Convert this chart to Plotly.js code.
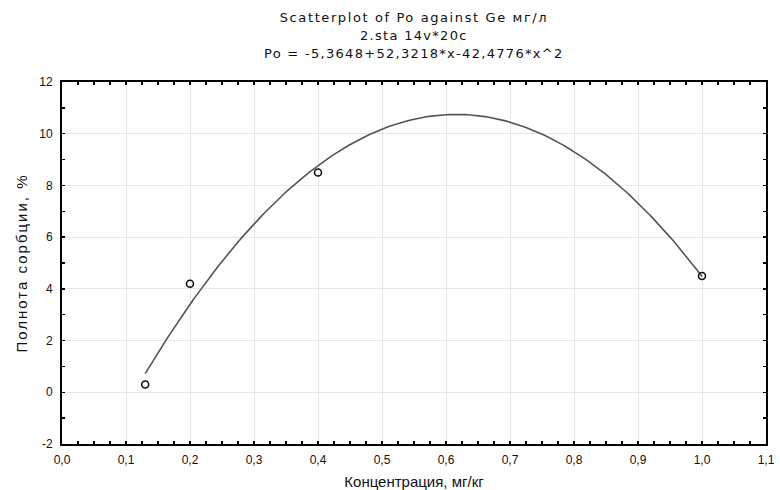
<!DOCTYPE html>
<html>
<head>
<meta charset="utf-8">
<script src="https://cdn.plot.ly/plotly-3.0.1.min.js"></script>
<style>
html,body{margin:0;padding:0;background:#fff;}
#chart{width:780px;height:490px;}
.gtitle { letter-spacing: 1.6px; }
.annotation-text { letter-spacing: 1.3px; }
.ytitle { letter-spacing: 2px; }
</style>
</head>
<body>
<div id="chart"></div>
<script>
// Observed points
const concentration = [0.13, 0.2, 0.4, 1.0];
const sorption = [0.3, 4.2, 8.5, 4.5];
// Fitted quadratic from the chart's caption: Po = a + b*x + c*x^2
const fitCoefficients = [-5.3648, 52.3218, -42.4776];
const titleLines = ["Scatterplot of Po against Ge мг/л", "2.sta 14v*20c", "Po = -5,3648+52,3218*x-42,4776*x^2"];
const xTitle = "Концентрация, мг/кг";
const yTitle = "Полнота сорбции, %";
const yTickValues = [-2, 0, 2, 4, 6, 8, 10, 12];
const yTickLabels = ["-2", "0", "2", "4", "6", "8", "10", "12"];

const xmin = Math.min(...concentration), xmax = Math.max(...concentration);
const fitX = [], fitY = [];
for (let i = 0; i <= 200; i++) {
  const x = xmin + (xmax - xmin) * i / 200;
  fitX.push(x);
  fitY.push(fitCoefficients[0] + fitCoefficients[1] * x + fitCoefficients[2] * x * x);
}

const font = "Liberation Sans, Arial, sans-serif";
const titleFont = "DejaVu Sans, Verdana, sans-serif";
const data = [
  {x: fitX, y: fitY, mode: 'lines', line: {color: '#555555', width: 1.6}, hoverinfo: 'skip'},
  {x: concentration, y: sorption, mode: 'markers',
   marker: {symbol: 'circle-open', size: 7, color: '#111111', line: {width: 1.6, color: '#111111'}}}
];

const axisCommon = {
  showline: true, linecolor: '#000', linewidth: 2, mirror: 'allticks',
  ticks: 'inside', ticklen: 3, tickcolor: '#000', tickwidth: 1.5,
  showgrid: true, gridcolor: '#e6e6e6', gridwidth: 1, zeroline: false,
  tickfont: {family: font, size: 12, color: '#111'}
};

const layout = {
  width: 780, height: 490,
  margin: {l: 62, r: 14, t: 82, b: 46},
  paper_bgcolor: '#fff', plot_bgcolor: '#fff',
  separators: ',.',
  showlegend: false,
  font: {family: font, color: '#111'},
  title: {text: titleLines[0], font: {family: titleFont, size: 13, color: '#111'},
          x: 0.5, xanchor: 'center', xref: 'paper', y: 1 - 17/490, yanchor: 'middle', yref: 'container'},
  annotations: [
    {text: titleLines[1], xref: 'paper', yref: 'paper', x: 0.5, y: 1 + (82-35)/362, xanchor: 'center', yanchor: 'middle', showarrow: false, font: {family: titleFont, size: 13, color: '#111'}},
    {text: titleLines[2], xref: 'paper', yref: 'paper', x: 0.5, y: 1 + (82-53)/362, xanchor: 'center', yanchor: 'middle', showarrow: false, font: {family: titleFont, size: 13, color: '#111'}}
  ],
  xaxis: Object.assign({}, axisCommon, {
    range: [0, 1.1], dtick: 0.1, tick0: 0, tickformat: '.1f', ticklabelstandoff: 4,
    minor: {dtick: 0.025, ticks: 'inside', ticklen: 3, tickcolor: '#000', showgrid: false},
    title: {text: xTitle, font: {family: font, size: 15, color: '#111'}, standoff: 10}
  }),
  yaxis: Object.assign({}, axisCommon, {
    range: [-2, 12], tickmode: 'array', tickvals: yTickValues, ticktext: yTickLabels, ticklabelstandoff: 5,
    minor: {dtick: 1, ticks: 'inside', ticklen: 3, tickcolor: '#000', showgrid: false},
    title: {text: yTitle, font: {family: font, size: 15, color: '#111'}, standoff: 8}
  })
};

Plotly.newPlot('chart', data, layout, {displayModeBar: false, staticPlot: true});
</script>
</body>
</html>
